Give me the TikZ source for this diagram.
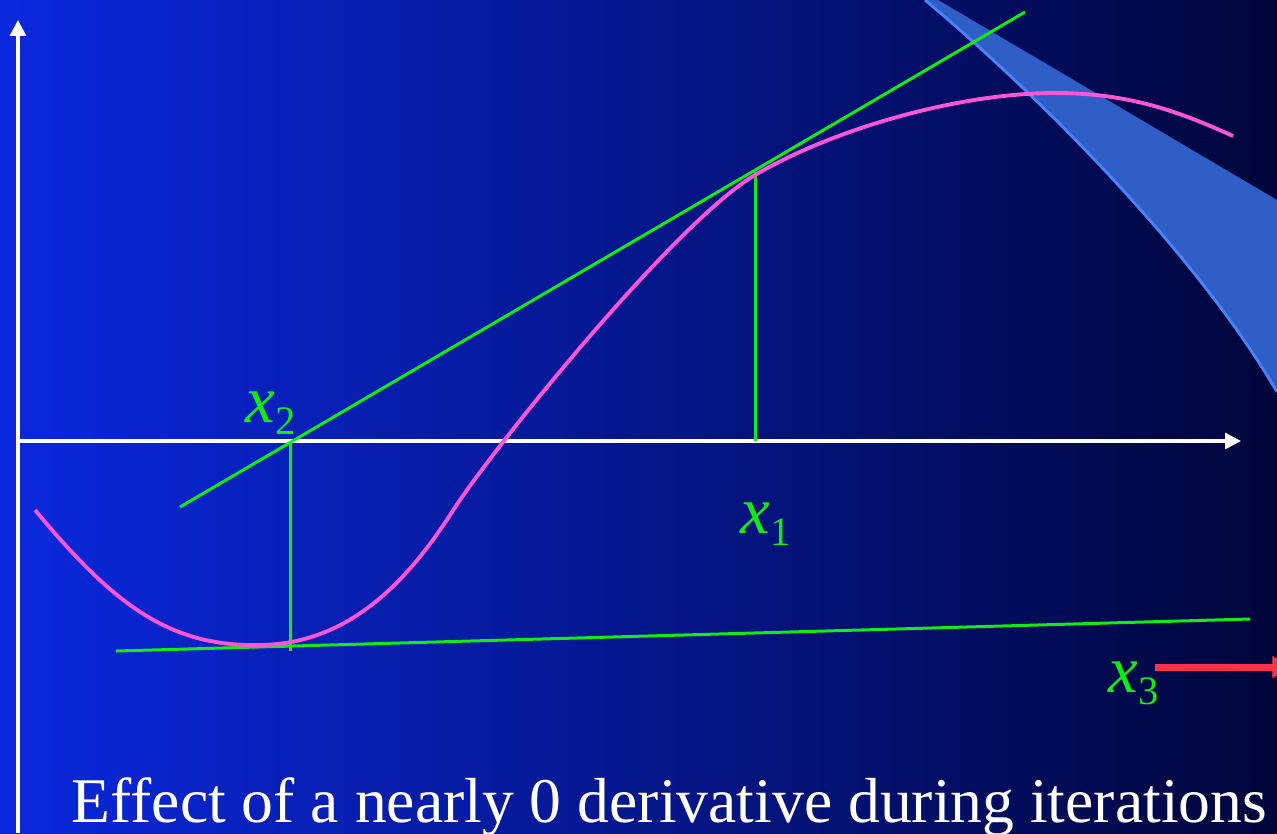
\documentclass[tikz,border=0pt]{standalone}
\usepackage{fontspec}
\setmainfont{Liberation Serif}
\usetikzlibrary{arrows.meta}
\definecolor{bgL}{RGB}{10,40,222}
\definecolor{bgR}{RGB}{0,5,58}
\definecolor{gr}{RGB}{20,235,20}
\definecolor{pk}{RGB}{255,85,215}
\definecolor{bandfill}{RGB}{47,94,198}
\definecolor{bandedge}{RGB}{75,130,255}
\definecolor{rd}{RGB}{255,50,70}
\newcommand{\subdigit}[1]{\raisebox{-3.6pt}{\fontsize{11.5}{11.5}\selectfont\upshape #1}}
\begin{document}
\begin{tikzpicture}[x=0.01cm,y=-0.01cm,
  axisline/.style={white, line width=0.9pt, -{Triangle[length=4.5pt,width=4.5pt]}},
  greenline/.style={gr, line width=0.85pt},
  curveline/.style={pk, line width=1.1pt},
  lbl/.style={text=gr, anchor=base west, inner sep=0pt, font=\fontsize{19}{19}\selectfont\itshape}]
\useasboundingbox (0,0) rectangle (1277,833);
\clip (0,0) rectangle (1277,833);
\shade[left color=bgL, right color=bgR] (0,0) rectangle (1277,833);
% band shape
\fill[bandfill] (925,0) .. controls (1050,105) and (1200,260) .. (1277,392) -- (1277,200) -- (938,0) -- cycle;
\draw[bandedge, line width=0.8pt] (925,0) .. controls (1050,105) and (1200,260) .. (1277,392);
% axes
\coordinate (yb) at (18,833);
\coordinate (yt) at (18,20);
\coordinate (xl) at (18,441);
\coordinate (xr) at (1241,441);
\draw[axisline] (yb) -- (yt);
\draw[axisline] (xl) -- (xr);
% tangent lines
\coordinate (t1a) at (180,507);
\coordinate (t1b) at (1025,12);
\coordinate (p1) at (755,172);
\coordinate (q1) at (755,441);
\coordinate (q2) at (290,441);
\coordinate (p2) at (290,651);
\coordinate (t2a) at (116,651);
\coordinate (t2b) at (1250,619);
\draw[greenline] (t1a) -- (t1b);
\draw[greenline] (p1) -- (q1);
\draw[greenline] (q2) -- (p2);
\draw[greenline] (t2a) -- (t2b);
% curve
\draw[curveline] (35,510) .. controls (110,600) and (165,645) .. (253,645)
  .. controls (345,647) and (405,585) .. (452,512)
  .. controls (490,452) and (675,222) .. (755,175)
  .. controls (835,128) and (960,93) .. (1055,93)
  .. controls (1130,93) and (1180,112) .. (1233,136);
% labels
\node[lbl] (x2) at (245,422) {x\subdigit{2}};
\node[lbl] (x1) at (740,533) {x\subdigit{1}};
\node[lbl] (x3) at (1108,692) {x\subdigit{3}};
% red arrow
\coordinate (r1) at (1155,667);
\coordinate (r2) at (1290,667);
\draw[rd, line width=2pt, -{Triangle[length=5pt,width=6pt]}] (r1) -- (r2);
% caption
\node[anchor=base west, inner sep=0pt, text=white, font=\fontsize{18.1}{18.1}\selectfont] (cap) at (71,822) {Effect of a nearly 0 derivative during iterations};
\end{tikzpicture}
\end{document}
